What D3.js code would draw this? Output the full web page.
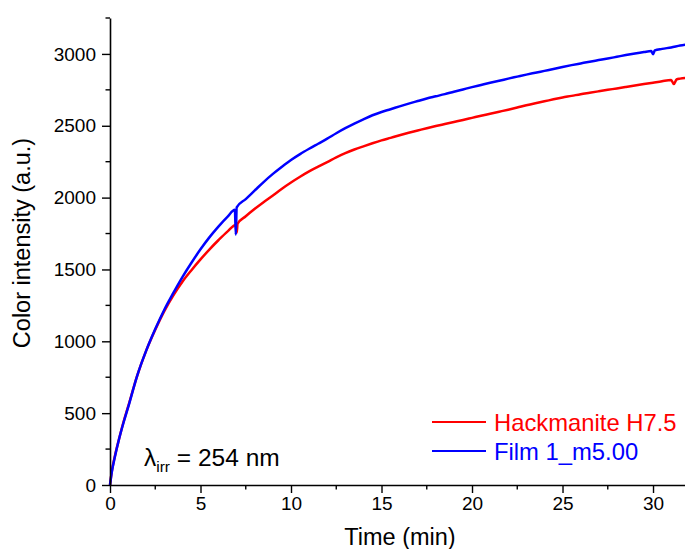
<!DOCTYPE html>
<html>
<head>
<meta charset="utf-8">
<script src="https://cdn.jsdelivr.net/npm/d3@7"></script>
<style>
  html, body { margin: 0; padding: 0; background: #fff; }
  svg { display: block; font-family: "Liberation Sans", Arial, sans-serif; }
</style>
</head>
<body>
<svg id="chart" width="685" height="549"></svg>
<script>
// Hackmanite H7.5 coloration under 254 nm irradiation
const hackTime = [0, 0.1, 0.25, 0.5, 0.75, 1.0, 1.5, 2.0, 2.5, 3.0, 3.5, 4.0, 4.5, 5.0, 5.5, 6.0, 6.5,
  6.95, 7.0, 7.05, 7.5, 8.0, 8.5, 9.0, 9.5, 10.0, 10.5, 11.0, 11.5, 12.0, 12.5, 13.0, 13.5, 14.0,
  14.5, 15.0, 15.5, 16.0, 16.5, 17.0, 17.5, 18.0, 18.5, 19.0, 19.5, 20.0, 20.5, 21.0, 21.5, 22.0,
  22.5, 23.0, 23.5, 24.0, 24.5, 25.0, 25.5, 26.0, 26.5, 27.0, 27.5, 28.0, 28.5, 29.0, 29.5, 30.0,
  30.5, 31.0, 31.15, 31.3, 31.5, 32.0];
const hackValues = [0, 95, 190, 320, 440, 545, 760, 935, 1080, 1210, 1320, 1415, 1495, 1570, 1640, 1705, 1765,
  1810, 1755, 1818, 1870, 1922, 1970, 2015, 2062, 2105, 2145, 2182, 2215, 2247, 2280, 2310, 2335, 2357,
  2378, 2398, 2416, 2434, 2451, 2467, 2483, 2498, 2512, 2526, 2540, 2555, 2570, 2584, 2598, 2612,
  2627, 2643, 2657, 2670, 2684, 2697, 2708, 2720, 2730, 2740, 2750, 2760, 2770, 2780, 2790, 2800,
  2810, 2818, 2790, 2822, 2828, 2835];

// Film 1_m5.00 coloration under the same irradiation
const filmTime = [0, 0.1, 0.25, 0.5, 0.75, 1.0, 1.5, 2.0, 2.5, 3.0, 3.5, 4.0, 4.5, 5.0, 5.5, 6.0, 6.5,
  6.9, 6.95, 7.0, 7.5, 8.0, 8.5, 9.0, 9.5, 10.0, 10.5, 11.0, 11.5, 12.0, 12.5, 13.0, 13.5, 14.0,
  14.5, 15.0, 15.5, 16.0, 16.5, 17.0, 17.5, 18.0, 18.5, 19.0, 19.5, 20.0, 20.5, 21.0, 21.5, 22.0,
  22.5, 23.0, 23.5, 24.0, 24.5, 25.0, 25.5, 26.0, 26.5, 27.0, 27.5, 28.0, 28.5, 29.0, 29.5, 29.9,
  30.0, 30.1, 30.5, 31.0, 31.5, 32.0];
const filmValues = [0, 90, 185, 320, 435, 540, 760, 935, 1085, 1220, 1337, 1447, 1547, 1640, 1725, 1800, 1868,
  1915, 1742, 1932, 1990, 2050, 2110, 2165, 2215, 2262, 2303, 2340, 2375, 2410, 2448, 2483, 2515, 2545,
  2573, 2596, 2615, 2635, 2654, 2672, 2690, 2705, 2720, 2737, 2753, 2769, 2784, 2799, 2813, 2828,
  2842, 2856, 2869, 2882, 2895, 2909, 2922, 2934, 2946, 2957, 2968, 2980, 2992, 3003, 3013, 3020,
  2998, 3024, 3035, 3045, 3058, 3068];

// Axis ticks
const xMajorTicks = [0, 5, 10, 15, 20, 25, 30];
const xMinorTicks = [2.5, 7.5, 12.5, 17.5, 22.5, 27.5];
const yMajorTicks = [0, 500, 1000, 1500, 2000, 2500, 3000];
const yMinorTicks = [250, 750, 1250, 1750, 2250, 2750, 3250];

const seriesNames = ["Hackmanite H7.5", "Film 1_m5.00"];
const seriesColors = ["#ff0000", "#0000ff"];

const svg = d3.select("#chart");
const plotLeft = 110, plotRight = 685.6, plotTop = 18, plotBottom = 485;

const x = d3.scaleLinear().domain([0, 31.8]).range([plotLeft, plotRight]);
const y = d3.scaleLinear().domain([0, 3250]).range([plotBottom, plotTop]);

const axisColor = "#000";

// Series lines
const series = [
  { t: hackTime, v: hackValues, color: seriesColors[0] },
  { t: filmTime, v: filmValues, color: seriesColors[1] }
];
const line = d3.line().curve(d3.curveMonotoneX).x(d => x(d[0])).y(d => y(d[1]));
series.forEach(s => {
  svg.append("path")
    .datum(s.t.map((t, i) => [t, s.v[i]]))
    .attr("fill", "none")
    .attr("stroke", s.color)
    .attr("stroke-width", 2.5)
    .attr("stroke-linejoin", "round")
    .attr("d", line);
});

// X axis
const xAxis = svg.append("g").attr("transform", `translate(0,${plotBottom})`);
xAxis.call(d3.axisBottom(x).tickValues(xMajorTicks).tickSize(8).tickSizeOuter(0).tickPadding(4)
  .tickFormat(d3.format("d")));
xAxis.selectAll(".minor").data(xMinorTicks).enter().append("line")
  .attr("x1", d => x(d)).attr("x2", d => x(d)).attr("y1", 0).attr("y2", 4.5)
  .attr("stroke", axisColor).attr("stroke-width", 1.4);

// Y axis
const yAxis = svg.append("g").attr("transform", `translate(${plotLeft},0)`);
yAxis.call(d3.axisLeft(y).tickValues(yMajorTicks).tickSize(8).tickSizeOuter(0).tickPadding(6)
  .tickFormat(d3.format("d")));
yAxis.selectAll(".minor").data(yMinorTicks).enter().append("line")
  .attr("x1", 0).attr("x2", -4.5).attr("y1", d => y(d)).attr("y2", d => y(d))
  .attr("stroke", axisColor).attr("stroke-width", 1.4);

[xAxis, yAxis].forEach(g => {
  g.select(".domain").attr("stroke", axisColor).attr("stroke-width", 1.6);
  g.selectAll(".tick line").attr("stroke", axisColor).attr("stroke-width", 1.4);
  g.selectAll(".tick text").attr("fill", "#000").style("font-size", "19px")
    .style("font-family", "'Liberation Sans', Arial, sans-serif");
});

// Axis titles
svg.append("text")
  .attr("x", 400).attr("y", 545)
  .attr("text-anchor", "middle")
  .style("font-size", "23.5px")
  .text("Time (min)");

svg.append("text")
  .attr("transform", "translate(30,243) rotate(-90)")
  .attr("text-anchor", "middle")
  .style("font-size", "23.5px")
  .text("Color intensity (a.u.)");

// Legend
const legend = svg.append("g");
seriesNames.forEach((name, i) => {
  const ly = 422 + i * 29;
  legend.append("line")
    .attr("x1", 432).attr("x2", 486).attr("y1", ly).attr("y2", ly)
    .attr("stroke", seriesColors[i]).attr("stroke-width", 2.2);
  legend.append("text")
    .attr("x", 494).attr("y", ly + 9)
    .attr("fill", seriesColors[i])
    .style("font-size", "23.8px")
    .text(name);
});

// Irradiation wavelength annotation
const ann = svg.append("text").attr("x", 144).attr("y", 466).style("font-size", "24.5px");
ann.append("tspan").text("λ");
ann.append("tspan").attr("dy", 6).style("font-size", "15.5px").text("irr");
ann.append("tspan").attr("dy", -6).text(" = 254 nm");
</script>
</body>
</html>
